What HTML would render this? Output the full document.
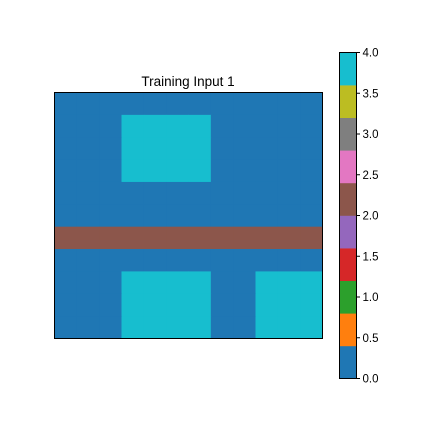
<!DOCTYPE html>
<html><head><meta charset="utf-8"><style>
body{margin:0;background:#fff;}
svg text{font-family:"Liberation Sans",sans-serif;}
</style></head><body>
<svg id="chart" width="432" height="432" xmlns="http://www.w3.org/2000/svg">
<text x="188" y="86" text-anchor="middle" font-size="13.5" fill="#000">Training Input 1</text>
<g id="grid"></g>
<rect x="54.5" y="92.5" width="268" height="246" fill="none" stroke="#000" stroke-width="1"/>
<g id="cbar"></g>
</svg>
<script>
const gridValues = [
[0,0,0,0,0,0,0,0,0,0,0,0],
[0,0,0,4,4,4,4,0,0,0,0,0],
[0,0,0,4,4,4,4,0,0,0,0,0],
[0,0,0,4,4,4,4,0,0,0,0,0],
[0,0,0,0,0,0,0,0,0,0,0,0],
[0,0,0,0,0,0,0,0,0,0,0,0],
[2,2,2,2,2,2,2,2,2,2,2,2],
[0,0,0,0,0,0,0,0,0,0,0,0],
[0,0,0,4,4,4,4,0,0,4,4,4],
[0,0,0,4,4,4,4,0,0,4,4,4],
[0,0,0,4,4,4,4,0,0,4,4,4]
];
const cbarTicks = [0,0.5,1,1.5,2,2.5,3,3.5,4];
const cbarTickLabels = ["0.0","0.5","1.0","1.5","2.0","2.5","3.0","3.5","4.0"];
const tab10 = ["#1f77b4","#ff7f0e","#2ca02c","#d62728","#9467bd","#8c564b","#e377c2","#7f7f7f","#bcbd22","#17becf"];
const NS="http://www.w3.org/2000/svg";
const vmin=0,vmax=4;
function color(v){let i=Math.floor((v-vmin)/(vmax-vmin)*10);if(i>9)i=9;if(i<0)i=0;return tab10[i];}
const gx0=54.5,gy0=92.5,gw=268,gh=246;
const rows=gridValues.length,cols=gridValues[0].length;
function xS(c){return gx0+c*gw/cols;}
function yS(r){return gy0+r*gh/rows;}
const g=document.getElementById('grid');
gridValues.forEach((row,r)=>row.forEach((v,c)=>{
 const e=document.createElementNS(NS,'rect');
 e.setAttribute('x',xS(c));e.setAttribute('y',yS(r));
 e.setAttribute('width',gw/cols+0.5);e.setAttribute('height',gh/rows+0.5);
 e.setAttribute('fill',color(v));
 
 
 g.appendChild(e);
}));
const cb=document.getElementById('cbar');
const cx=339.5,cw=17,cyTop=52.5,cyBot=378.5;
function cyS(v){return cyBot-(v-vmin)/(vmax-vmin)*(cyBot-cyTop);}
for(let i=0;i<10;i++){
 const a=vmin+i*(vmax-vmin)/10,b=vmin+(i+1)*(vmax-vmin)/10;
 const e=document.createElementNS(NS,'rect');
 e.setAttribute('x',cx);e.setAttribute('y',cyS(b));e.setAttribute('width',cw);e.setAttribute('height',cyS(a)-cyS(b)+0.3);
 e.setAttribute('fill',tab10[i]);
 
 
 cb.appendChild(e);
}
const fr=document.createElementNS(NS,'rect');
fr.setAttribute('x',cx);fr.setAttribute('y',cyTop);fr.setAttribute('width',cw);fr.setAttribute('height',cyBot-cyTop);
fr.setAttribute('fill','none');fr.setAttribute('stroke','#000');fr.setAttribute('stroke-width','1');


cb.appendChild(fr);
cbarTicks.forEach((t,i)=>{
 const y=cyS(t);
 const l=document.createElementNS(NS,'line');
 l.setAttribute('x1',cx+cw);l.setAttribute('x2',cx+cw+3.5);l.setAttribute('y1',y);l.setAttribute('y2',y);
 l.setAttribute('stroke','#000');
 
 
 cb.appendChild(l);
 const tx=document.createElementNS(NS,'text');
 tx.setAttribute('x',cx+cw+6);tx.setAttribute('y',y+4);tx.setAttribute('font-size','11.5');
 tx.textContent=cbarTickLabels[i];
 
 
 cb.appendChild(tx);
});
</script>
</body></html>
